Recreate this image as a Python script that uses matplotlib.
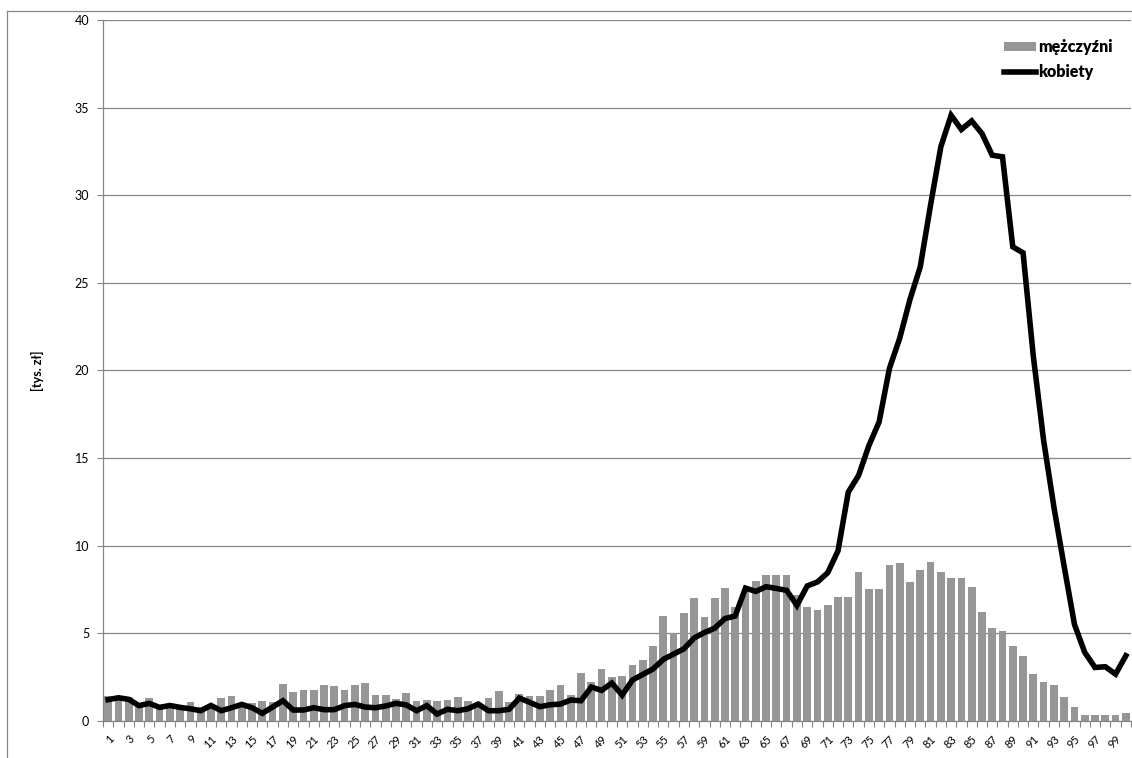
import matplotlib
matplotlib.use("Agg")
import matplotlib.pyplot as plt
from matplotlib.lines import Line2D
from matplotlib.patches import Patch
import numpy as np

plt.rcParams['font.family'] = ['Lato', 'DejaVu Sans']

# Age categories 1..100
categories = list(range(1, 101))

# Men (bars), thousands of PLN
mezczyzni = [
    1.41, 1.41, 1.37, 0.95, 1.31, 0.80, 0.90, 0.80, 1.08, 0.80,
    0.70, 1.31, 1.43, 0.90, 1.03, 1.14, 1.08, 2.11, 1.65, 1.77,
    1.77, 2.05, 2.00, 1.77, 2.05, 2.17, 1.48, 1.48, 1.24, 1.58,
    1.12, 1.18, 1.12, 1.18, 1.35, 1.12, 1.00, 1.29, 1.69, 1.06,
    1.52, 1.41, 1.41, 1.75, 2.03, 1.46, 2.72, 2.20, 2.95, 2.49,
    2.55, 3.17, 3.45, 4.26, 5.97, 4.98, 6.16, 7.00, 5.93, 7.00,
    7.57, 6.48, 7.50, 7.99, 8.32, 8.32, 8.32, 7.20, 6.48, 6.33,
    6.60, 7.06, 7.06, 8.50, 7.51, 7.51, 8.88, 8.99, 7.91, 8.59,
    9.05, 8.48, 8.14, 8.14, 7.62, 6.20, 5.29, 5.11, 4.26, 3.69,
    2.66, 2.21, 2.02, 1.37, 0.78, 0.34, 0.34, 0.34, 0.34, 0.46,
]

# Women (line), thousands of PLN
kobiety = [
    1.20, 1.31, 1.22, 0.86, 0.99, 0.76, 0.87, 0.76, 0.68, 0.57,
    0.87, 0.57, 0.74, 0.93, 0.74, 0.42, 0.78, 1.14, 0.61, 0.61,
    0.74, 0.63, 0.63, 0.86, 0.93, 0.78, 0.74, 0.84, 0.99, 0.90,
    0.57, 0.86, 0.38, 0.65, 0.57, 0.68, 0.95, 0.57, 0.57, 0.65,
    1.29, 1.05, 0.80, 0.91, 0.95, 1.18, 1.14, 1.92, 1.73, 2.15,
    1.46, 2.32, 2.64, 2.95, 3.50, 3.80, 4.10, 4.72, 5.03, 5.28,
    5.83, 5.98, 7.57, 7.38, 7.65, 7.55, 7.44, 6.58, 7.69, 7.92,
    8.45, 9.70, 13.05, 14.00, 15.70, 17.06, 20.11, 21.83, 24.05, 25.91,
    29.43, 32.76, 34.56, 33.75, 34.24, 33.52, 32.28, 32.19, 27.05, 26.71,
    20.80, 16.00, 12.20, 8.80, 5.50, 3.90, 3.04, 3.08, 2.66, 3.71,
]

y_ticks = [0, 5, 10, 15, 20, 25, 30, 35, 40]
x_tick_labels = [str(c) for c in categories[::2]]

W, H = 1132, 758
fig = plt.figure(figsize=(W / 100, H / 100), dpi=100)
fig.patch.set_facecolor('white')

ax_left, ax_right = 103 / W, 1131 / W
ax_bottom, ax_top = 1 - 720.7 / H, 1 - 20 / H
ax = fig.add_axes([ax_left, ax_bottom, ax_right - ax_left, ax_top - ax_bottom])

grid_col = '#868686'
bar_col = '#969696'

ax.bar(categories, mezczyzni, width=0.75, color=bar_col, zorder=2,
       label='mężczyźni')
ax.plot(categories, kobiety, color='black', linewidth=4.0, zorder=3,
        solid_joinstyle='miter', label='kobiety')

ax.set_xlim(0.5, 100.5)
ax.set_ylim(0, 40)

ax.set_yticks(y_ticks)
ax.yaxis.grid(True, color=grid_col, linewidth=0.9, zorder=0)
ax.set_axisbelow(True)
ax.tick_params(axis='y', length=4, width=0.8, color=grid_col, labelsize=9,
               pad=6, labelcolor='black')

ax.set_xticks(categories[::2])
ax.set_xticklabels(x_tick_labels, rotation=45, ha='right',
                   rotation_mode='anchor', fontsize=8)
ax.set_xticks(np.arange(0.5, 101, 1.0), minor=True)
ax.tick_params(axis='x', which='major', length=0, pad=9)
ax.tick_params(axis='x', which='minor', length=4, width=0.8, color=grid_col)

for s in ('top', 'right'):
    ax.spines[s].set_visible(False)
for s in ('left', 'bottom'):
    ax.spines[s].set_color(grid_col)
    ax.spines[s].set_linewidth(0.9)

ax.set_ylabel('[tys. zł]', fontsize=9, fontweight='bold', labelpad=22)

handles = [Patch(facecolor=bar_col, edgecolor='none'),
           Line2D([0], [0], color='black', linewidth=4.0)]
leg = ax.legend(handles, ['mężczyźni', 'kobiety'], loc='upper left',
                bbox_to_anchor=((993 - 103) / (1131 - 103), 1 - 8 / 700.7),
                frameon=False, prop={'weight': 'heavy', 'size': 11.5},
                handlelength=2.0, handletextpad=0.1, labelspacing=0.55,
                handleheight=0.55, borderpad=0.2)

# chart outer border
fig.add_artist(Line2D([7 / W, 7 / W], [0, 1 - 11 / H], color=grid_col,
                      linewidth=0.9, transform=fig.transFigure))
fig.add_artist(Line2D([7 / W, 1], [1 - 11 / H, 1 - 11 / H], color=grid_col,
                      linewidth=0.9, transform=fig.transFigure))

fig.savefig('out.png', dpi=100, facecolor='white')
